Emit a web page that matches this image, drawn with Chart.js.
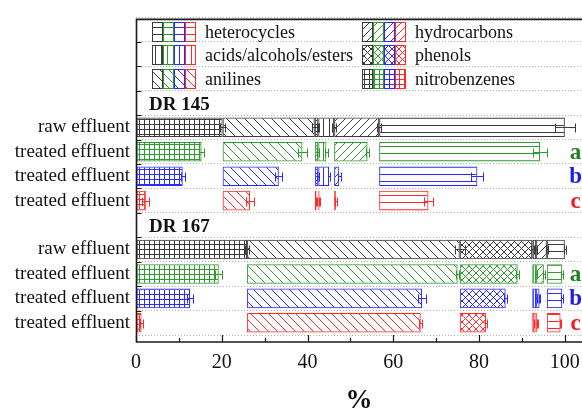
<!DOCTYPE html>
<html>
<head>
<meta charset="utf-8">
<script src="https://cdn.jsdelivr.net/npm/chart.js@4.4.1/dist/chart.umd.min.js"></script>
<style>
  html, body { margin: 0; padding: 0; background: #fff; }
  canvas { display: block; }
</style>
</head>
<body>
<canvas id="composition" width="582" height="412"></canvas>
<script>
// Compound classes, in the order they are stacked along each bar
const categories = ['nitrobenzenes', 'anilines', 'phenols', 'acids/alcohols/esters', 'hydrocarbons', 'heterocycles'];
const hatchKinds = ['nitro', 'anilines', 'phenols', 'acids', 'hydro', 'hetero'];

const rowLabels = ['', '', '', '', 'raw effluent', 'treated effluent', 'treated effluent', 'treated effluent',
                   '', 'raw effluent', 'treated effluent', 'treated effluent', 'treated effluent'];
const groupTitles = ['DR 145', 'DR 167'];
const titleRows = [3, 8];
const groupRows = [4, 9];
const sampleTags = ['', 'a', 'b', 'c'];
const xTicks = [0, 20, 40, 60, 80, 100];

// share of each class in %, same order as categories
const dr145Raw = [20.2, 21.5, 0.8, 3.7, 10.5, 43.3];
const dr145A   = [15.3, 18.6, 0.8, 1.9, 7.8, 37.5];
const dr145B   = [10.9, 13.1, 0.8, 2.5, 1.2, 22.9];
const dr145C   = [2.3, 6.4, 0.4, 0.3, 0.4, 11.5];
const dr167Raw = [25.9, 49.6, 16.9, 0.9, 2.5, 4.2];
const dr167A   = [19.3, 49.1, 13.5, 0.9, 1.8, 3.6];
const dr167B   = [12.6, 40.8, 10.7, 0.9, 0.8, 3.6];
const dr167C   = [1.3, 40.5, 6.1, 0.8, 0.2, 3.2];

// standard deviations
const dr145RawErr = [0.6, 0.7, 0.2, 0.4, 0.5, 2.3];
const dr145AErr   = [0.5, 1.0, 0.2, 0.3, 0.3, 1.6];
const dr145BErr   = [0.5, 0.8, 0.2, 0.3, 0.3, 1.4];
const dr145CErr   = [0.8, 0.9, 0.1, 0.1, 0.2, 1.0];
const dr167RawErr = [0.5, 1.2, 0.3, 0.2, 0.3, 0.3];
const dr167AErr   = [0.8, 0.3, 0.3, 0.2, 0.2, 0.2];
const dr167BErr   = [0.7, 1.0, 0.4, 0.3, 0.2, 0.2];
const dr167CErr   = [0.3, 0.4, 0.3, 0.5, 0.1, 0.2];

const groups = [
    { firstRow: groupRows[0], values: [dr145Raw, dr145A, dr145B, dr145C], errors: [dr145RawErr, dr145AErr, dr145BErr, dr145CErr] },
    { firstRow: groupRows[1], values: [dr167Raw, dr167A, dr167B, dr167C], errors: [dr167RawErr, dr167AErr, dr167BErr, dr167CErr] }
];

const rowColors = ['#3c3c3c', '#2e9a2e', '#2a2aff', '#ff2a2a'];
const tagColors = ['#111', '#1f801f', '#1c1cf0', '#f01c1c'];
const serif = 'Liberation Serif';

// every class starts where it starts in the raw effluent bar
function cumulative(vals) {
    let sum = 0;
    return vals.map(v => { const s = sum; sum += v; return s; });
}

function sampleOfRow(i) {
    if (i >= groupRows[1]) return i - groupRows[1];
    return i - groupRows[0];
}

function makePattern(kind, color) {
    const s = { hetero: 7, acids: 6, anilines: 9, hydro: 8, phenols: 7, nitro: 5 }[kind];
    const tile = document.createElement('canvas');
    tile.width = s;
    tile.height = s;
    const g = tile.getContext('2d');
    g.strokeStyle = color;
    g.lineWidth = 1;
    g.beginPath();
    if (kind === 'hetero' || kind === 'nitro') { g.moveTo(0, s - 0.5); g.lineTo(s, s - 0.5); }
    if (kind === 'acids' || kind === 'nitro') { g.moveTo(s - 0.5, 0); g.lineTo(s - 0.5, s); }
    if (kind === 'anilines' || kind === 'phenols') {
        for (const d of [-s, 0, s]) { g.moveTo(d, 0); g.lineTo(d + s, s); }
    }
    if (kind === 'hydro' || kind === 'phenols') {
        for (const d of [-s, 0, s]) { g.moveTo(d, s); g.lineTo(d + s, 0); }
    }
    g.stroke();
    return g.createPattern(tile, 'repeat');
}

const patterns = hatchKinds.map(kind => rowColors.map(c => makePattern(kind, c)));

const datasets = categories.map((name, k) => {
    const data = rowLabels.map(() => null);
    groups.forEach(g => {
        const starts = cumulative(g.values[0]);
        g.values.forEach((vals, s) => {
            data[g.firstRow + s] = [starts[k], starts[k] + vals[k]];
        });
    });
    return {
        label: name,
        data: data,
        backgroundColor: ctx => {
            const s = sampleOfRow(ctx.dataIndex);
            return patterns[k][s] || 'transparent';
        },
        borderColor: ctx => rowColors[sampleOfRow(ctx.dataIndex)] || '#000',
        borderWidth: 1,
        borderSkipped: false,
        categoryPercentage: 0.8,
        barPercentage: 1
    };
});

// frame, inward ticks, error bars, legend and group labels
const decorations = {
    id: 'decorations',
    afterDatasetsDraw(chart) {
        const { ctx, scales: { x, y } } = chart;
        ctx.save();
        ctx.lineWidth = 1;
        groups.forEach(g => {
            const starts = cumulative(g.values[0]);
            g.values.forEach((vals, s) => {
                const yc = Math.round(y.getPixelForValue(g.firstRow + s)) + 0.5;
                ctx.strokeStyle = rowColors[s];
                vals.forEach((v, k) => {
                    const end = starts[k] + v;
                    const e = g.errors[s][k];
                    const x0 = Math.round(x.getPixelForValue(end - e)) + 0.5;
                    const x1 = Math.round(x.getPixelForValue(end + e)) + 0.5;
                    ctx.beginPath();
                    ctx.moveTo(x0, yc); ctx.lineTo(x1, yc);
                    ctx.moveTo(x0, yc - 4); ctx.lineTo(x0, yc + 5);
                    ctx.moveTo(x1, yc - 4); ctx.lineTo(x1, yc + 5);
                    ctx.stroke();
                });
            });
        });

        // sample tags on the right
        ctx.font = 'bold 23px "' + serif + '"';
        ctx.textAlign = 'center';
        ctx.textBaseline = 'middle';
        groups.forEach(g => {
            sampleTags.forEach((tag, s) => {
                if (!tag) return;
                ctx.fillStyle = tagColors[s];
                ctx.fillText(tag, x.getPixelForValue(102.5), y.getPixelForValue(g.firstRow + s) + 1);
            });
        });

        // group titles
        ctx.font = 'bold 19px "' + serif + '"';
        ctx.textAlign = 'left';
        ctx.fillStyle = '#111';
        groupTitles.forEach((t, i) => {
            ctx.fillText(t, chart.chartArea.left + 13, y.getPixelForValue(titleRows[i]) + 2);
        });

        // legend: one swatch per sample colour
        const legendCols = [[5, 3, 1], [4, 2, 0]];
        const colX = [152, 362];
        ctx.font = '18px "' + serif + '"';
        legendCols.forEach((col, c) => {
            col.forEach((k, r) => {
                // first row sits a little lower, under the top frame line
                const yc = Math.round(y.getPixelForValue(r)) + (r === 0 ? 2 : 1);
                for (let s = 0; s < rowColors.length; s++) {
                    const sx = colX[c] + s * 11;
                    ctx.fillStyle = '#fff';
                    ctx.fillRect(sx, yc - 10, 11, 20);
                    ctx.fillStyle = patterns[k][s];
                    ctx.fillRect(sx, yc - 10, 11, 20);
                    ctx.strokeStyle = rowColors[s];
                    ctx.strokeRect(sx + 0.5, yc - 9.5, 10, 19);
                }
                ctx.fillStyle = '#111';
                ctx.fillText(categories[k], colX[c] + 53, yc + 1);
            });
        });
        ctx.restore();
    },
    afterDraw(chart) {
        const { ctx, chartArea, scales: { x, y } } = chart;
        const left = chartArea.left + 0.5;
        const right = chart.width;
        const top = chartArea.top + 2;
        const axisY = chartArea.bottom + 7;
        ctx.save();
        ctx.strokeStyle = '#1a1a1a';
        ctx.lineWidth = 1.6;
        ctx.beginPath();
        ctx.moveTo(right, top); ctx.lineTo(left, top);
        ctx.lineTo(left, axisY); ctx.lineTo(right, axisY);
        ctx.stroke();

        ctx.lineWidth = 1.2;
        ctx.beginPath();
        xTicks.forEach((v, i) => {
            const px = Math.round(x.getPixelForValue(v)) + 0.5;
            ctx.moveTo(px, axisY); ctx.lineTo(px, axisY - 7);
            if (i < xTicks.length - 1) {
                const mx = Math.round(x.getPixelForValue((v + xTicks[i + 1]) / 2)) + 0.5;
                ctx.moveTo(mx, axisY); ctx.lineTo(mx, axisY - 4);
            }
        });
        for (let i = 0; i < rowLabels.length - 1; i++) {
            const py = Math.round((y.getPixelForValue(i) + y.getPixelForValue(i + 1)) / 2) + 0.5;
            ctx.moveTo(left, py); ctx.lineTo(left + 5, py);
        }
        ctx.stroke();
        ctx.restore();
    }
};

new Chart(document.getElementById('composition'), {
    type: 'bar',
    data: { labels: rowLabels, datasets: datasets },
    options: {
        indexAxis: 'y',
        responsive: false,
        animation: false,
        devicePixelRatio: 1,
        layout: { padding: { top: 10, right: 0, bottom: 0, left: 0 } },
        plugins: {
            legend: { display: false },
            tooltip: { enabled: false }
        },
        scales: {
            x: {
                type: 'linear',
                min: 0,
                max: 104,
                afterBuildTicks: scale => { scale.ticks = xTicks.map(v => ({ value: v })); },
                afterFit: scale => { scale.height = 77; },
                ticks: {
                    font: { family: serif, size: 20 },
                    color: '#111',
                    padding: 0,
                    maxRotation: 0
                },
                grid: { display: true, drawOnChartArea: false, drawTicks: true, tickLength: 16, color: 'rgba(0,0,0,0)' },
                border: { display: false },
                title: {
                    display: true,
                    text: '%',
                    color: '#111',
                    font: { family: serif, size: 27, weight: 'bold', lineHeight: 0.8 },
                    padding: { top: 0, bottom: 0 }
                }
            },
            y: {
                type: 'category',
                stacked: true,
                offset: true,
                afterFit: scale => { scale.width = 136; },
                ticks: {
                    font: { family: serif, size: 19 },
                    color: '#111',
                    padding: 6,
                    autoSkip: false
                },
                grid: { offset: true, drawTicks: false, color: '#b4b4b4', lineWidth: 1 },
                border: { display: false, dash: [1, 2] }
            }
        }
    },
    plugins: [decorations]
});
</script>
</body>
</html>
